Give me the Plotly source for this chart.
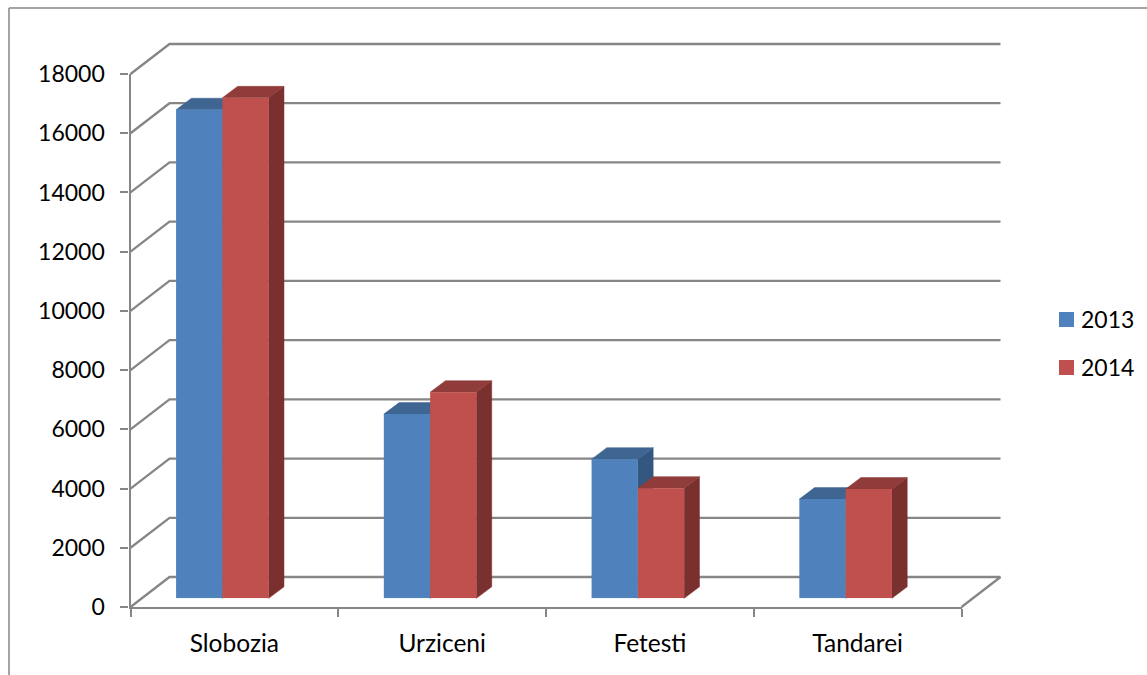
import plotly.graph_objects as go

# ---- data ----
categories = ["Slobozia", "Urziceni", "Fetesti", "Tandarei"]
series_names = ["2013", "2014"]
values_2013 = [16500, 6220, 4700, 3350]
values_2014 = [16900, 6960, 3720, 3690]
y_ticks = [0, 2000, 4000, 6000, 8000, 10000, 12000, 14000, 16000, 18000]

# ---- geometry of the page (pixels) ----
W, H = 1147, 675
AX_L, AX_R, AX_T, AX_B = 130.5, 961.5, 74.0, 607.0
WALL_DX, WALL_DY = 39.0, 30.0        # depth of the chart box
BAR_DX, BAR_DY = -12.0, -8.7         # front plane of the bars relative to the axes
FACE_DX, FACE_DY = 15.3, 11.5        # depth of each bar
BAR_W = 46.3
GRID = "#868686"
FONT = dict(family="Lato, Carlito, Calibri, sans-serif", size=23, color="#000000")
CAT_FONT = dict(family="Lato, Carlito, Calibri, sans-serif", size=24.5, color="#000000")

cat_px = (AX_R - AX_L) / len(categories)
val_px = (AX_B - AX_T) / max(y_ticks)
ux = lambda px: px / cat_px          # horizontal pixels -> category units
uy = lambda px: px / val_px          # vertical pixels -> value units
x_lo, x_hi = -0.5, len(categories) - 0.5
y_lo, y_hi = 0, max(y_ticks)

fig = go.Figure()

# Scene axes span the whole page, in the same units as the value axes
scene = dict(xaxis="x", yaxis="y", hoverinfo="skip", showlegend=False, cliponaxis=False)

def add_lines(xs, ys, width=2.3):
    fig.add_trace(go.Scatter(x=xs, y=ys, mode="lines",
                             line=dict(color=GRID, width=width), **scene))

def add_poly(xs, ys, color):
    fig.add_trace(go.Scatter(x=xs, y=ys, mode="lines", fill="toself", fillcolor=color,
                             line=dict(color=color, width=0.5), **scene))

dx, dy = ux(WALL_DX), uy(WALL_DY)
# back wall, side wall, floor
gx, gy = [], []
for v in y_ticks:
    gx += [x_lo, x_lo + dx, x_hi + dx, None]
    gy += [v, v + dy, v + dy, None]
add_lines(gx, gy)
add_lines([x_hi, x_hi + dx], [0, dy])

# 3-D faces of bars, derived from the values
offs = [-ux(BAR_W) / 2, ux(BAR_W) / 2]
sx, sy = ux(BAR_DX), -uy(BAR_DY)
fdx, fdy = ux(FACE_DX), uy(FACE_DY)
hw = ux(BAR_W) / 2
face_cols = [("#3F6592", "#34577F"), ("#8F3C3A", "#7A302E")]
for vals, off, (top_c, side_c) in zip([values_2013, values_2014], offs, face_cols):
    tx, ty, rx, ry = [], [], [], []
    for i, v in enumerate(vals):
        l = i + off - hw + sx
        r = i + off + hw + sx
        base = sy
        t = v + sy
        tx += [l, r, r + fdx, l + fdx, l, None]
        ty += [t, t, t + fdy, t + fdy, t, None]
        rx += [r, r + fdx, r + fdx, r, r, None]
        ry += [base, base + fdy, t + fdy, t, base, None]
    add_poly(rx, ry, side_c)
    add_poly(tx, ty, top_c)

# Front faces: real bars on their own axes, shifted to the bars' front plane
colors = ["#4F81BD", "#C0504D"]
for name, vals, c in zip(series_names, [values_2013, values_2014], colors):
    fig.add_trace(go.Bar(x=list(range(len(categories))), y=vals, name=name,
                         customdata=categories, hovertemplate="%{customdata}: %{y}",
                         marker=dict(color=c, line=dict(width=0)),
                         xaxis="x2", yaxis="y2", showlegend=False))

# Visible axes
fig.add_trace(go.Scatter(x=[0, 1, 2, 3], y=[None] * 4, xaxis="x3", yaxis="y3",
                         showlegend=False, hoverinfo="skip", mode="lines"))

hidden = dict(visible=False, showgrid=False, zeroline=False, fixedrange=True, automargin=False)
dom_x = lambda a, b: [a / W, b / W]
dom_y = lambda top, bot: [1 - bot / H, 1 - top / H]

fig.update_layout(
    width=W, height=H, margin=dict(l=0, r=0, t=0, b=0, pad=0, autoexpand=False),
    paper_bgcolor="white", plot_bgcolor="rgba(0,0,0,0)",
    font=FONT, barmode="group",
    bargap=1 - 2 * BAR_W / cat_px, bargroupgap=0,
    xaxis=dict(domain=[0, 1], range=[x_lo - ux(AX_L), x_lo + ux(W - AX_L)], **hidden),
    yaxis=dict(domain=[0, 1], range=[-uy(H - AX_B), uy(AX_B)], **hidden),
    xaxis2=dict(domain=dom_x(AX_L + BAR_DX, AX_R + BAR_DX), range=[x_lo, x_hi], type="linear",
                anchor="y2", **hidden),
    yaxis2=dict(domain=dom_y(AX_T + BAR_DY, AX_B + BAR_DY), range=[y_lo, y_hi],
                anchor="x2", **hidden),
    xaxis3=dict(domain=dom_x(AX_L, AX_R), range=[x_lo, x_hi], anchor="y3", automargin=False,
                tickmode="array", tickvals=list(range(len(categories))), ticktext=categories,
                tickfont=CAT_FONT,
                ticks="", showgrid=False, zeroline=False, fixedrange=True,
                showline=True, linecolor=GRID, linewidth=2.3,
                ticklabelstandoff=13,
                minor=dict(tick0=-0.5, dtick=1, ticks="outside", ticklen=8, tickwidth=1.5,
                           tickcolor=GRID, showgrid=False)),
    yaxis3=dict(domain=dom_y(AX_T, AX_B), range=[y_lo, y_hi], anchor="x3", automargin=False,
                tickmode="array", tickvals=y_ticks, ticks="outside", ticklen=8,
                tickwidth=1.5, tickcolor=GRID, showgrid=False, zeroline=False, fixedrange=True,
                showline=True, linecolor=GRID, linewidth=2.3, ticklabelstandoff=11,
                tickformat="d"),
)

# chart frame (open at the image's right and bottom edges)
frame = dict(type="line", xref="paper", yref="paper", line=dict(color=GRID, width=1.5), layer="below")
fig.add_shape(x0=9 / W, x1=9 / W, y0=0, y1=1 - 8 / H, **frame)
fig.add_shape(x0=9 / W, x1=1, y0=1 - 8 / H, y1=1 - 8 / H, **frame)

# legend
for i, (name, c) in enumerate(zip(series_names, colors)):
    cy = 319.5 + 48 * i
    fig.add_shape(type="rect", xref="paper", yref="paper", x0=1059 / W, x1=1074 / W,
                  y0=1 - (cy - 7.5) / H, y1=1 - (cy + 7.5) / H, fillcolor=c, line=dict(width=0))
    fig.add_annotation(xref="paper", yref="paper", x=1079 / W, y=1 - (cy - 1) / H, text=name,
                       showarrow=False, xanchor="left", yanchor="middle", font=FONT)

fig.write_html("out.html", post_script="document.body.style.margin='0';document.body.style.overflow='hidden';",
               config=dict(displayModeBar=False))
